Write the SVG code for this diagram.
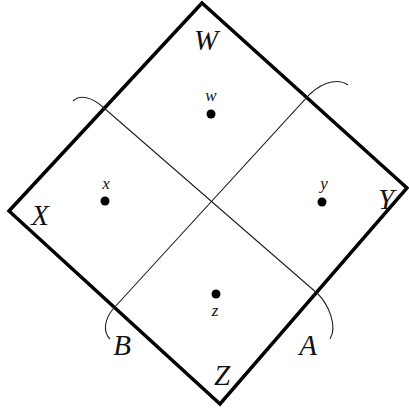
<svg xmlns="http://www.w3.org/2000/svg" width="409" height="413" viewBox="0 0 409 413">
<style>
.big{font-family:"Liberation Serif","DejaVu Serif",serif;font-style:italic;font-size:29px;fill:#111}
.small{font-family:"Liberation Serif","DejaVu Serif",serif;font-style:italic;font-size:17px;fill:#111}
.curve{fill:none;stroke:#222;stroke-width:1.1}
</style>
<rect width="409" height="413" fill="#fff"/>
<g id="square"><polygon points="202,3 407,188 220,404 9,211" fill="none" stroke="#000" stroke-width="3.5" stroke-linejoin="miter"/></g>
<g id="connectors">
<path class="curve" d="M73,101 C80,94 92,97 104,108 L318,294 C328,304 338,326 330,339"/>
<path class="curve" d="M348,85 C340,79 325,80 310,94 L113,309 C104,320 103,332 110,339"/>
</g>
<g id="W"><text class="big" x="206" y="50" text-anchor="middle">W</text></g>
<g id="X"><text class="big" x="40" y="225" text-anchor="middle">X</text></g>
<g id="Y"><text class="big" x="386" y="209" text-anchor="middle">Y</text></g>
<g id="Z"><text class="big" x="222" y="385" text-anchor="middle">Z</text></g>
<g id="B"><text class="big" x="122" y="355" text-anchor="middle">B</text></g>
<g id="A"><text class="big" x="308" y="355" text-anchor="middle">A</text></g>
<g id="w"><text class="small" x="211" y="101" text-anchor="middle">w</text><circle cx="211" cy="114" r="4.5" fill="#000"/></g>
<g id="x"><text class="small" x="106" y="189" text-anchor="middle">x</text><circle cx="105" cy="201" r="4.5" fill="#000"/></g>
<g id="y"><text class="small" x="324" y="189" text-anchor="middle">y</text><circle cx="322" cy="202" r="4.5" fill="#000"/></g>
<g id="z"><circle cx="216" cy="294" r="4.5" fill="#000"/><text class="small" x="215" y="316" text-anchor="middle">z</text></g>
</svg>
